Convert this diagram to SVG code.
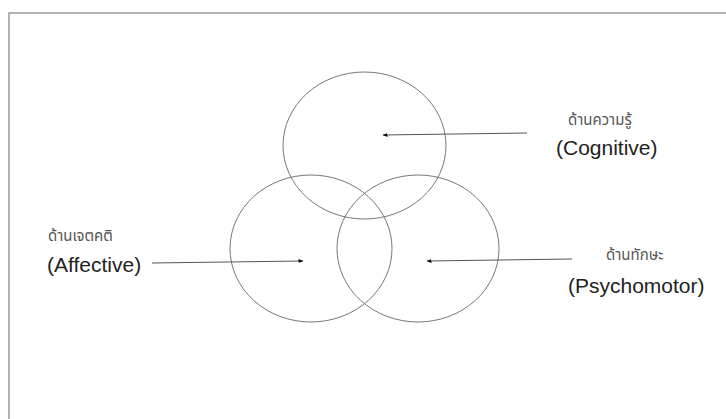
<svg xmlns="http://www.w3.org/2000/svg" width="726" height="419" viewBox="0 0 726 419">
  <defs>
    <style>
      .frame { fill: none; stroke: #999; stroke-width: 1.5; }
      .circle { fill: none; stroke: #777; stroke-width: 1; }
      .conn { stroke: #555; stroke-width: 1; fill: none; marker-end: url(#ah); }
      .en { font-family: "Liberation Sans", "Noto Sans", sans-serif; font-size: 21px; fill: #222; }
      .th { font-family: "Noto Sans Thai", "Tlwg Typist", "Loma", "Noto Sans", "DejaVu Sans", sans-serif; font-size: 15px; fill: #555; }
    </style>
    <marker id="ah" viewBox="0 0 10 10" refX="9" refY="5" markerWidth="5" markerHeight="5" orient="auto" markerUnits="userSpaceOnUse">
      <path d="M0,1 L10,5 L0,9 z" fill="#111"/>
    </marker>
  </defs>
  <rect x="0" y="0" width="726" height="419" fill="#fff"/>
  <path class="frame" d="M9,419 L9,13 L726,13"/>
  <g id="cognitive">
    <ellipse class="circle" cx="364.5" cy="145.5" rx="81.5" ry="73.5"/>
    <text class="th" x="568" y="125">ด้านความรู้</text>
    <text class="en" x="556" y="155">(Cognitive)</text>
  </g>
  <g id="affective">
    <ellipse class="circle" cx="311" cy="248.5" rx="81" ry="73.5"/>
    <text class="th" x="48" y="241">ด้านเจตคติ</text>
    <text class="en" x="47" y="272">(Affective)</text>
  </g>
  <g id="psychomotor">
    <ellipse class="circle" cx="418" cy="248.5" rx="81" ry="73.5"/>
    <text class="th" x="606" y="260">ด้านทักษะ</text>
    <text class="en" x="568" y="293">(Psychomotor)</text>
  </g>
  <g id="connectors">
    <line class="conn" x1="527" y1="133" x2="383" y2="135"/>
    <line class="conn" x1="152" y1="263" x2="303" y2="261"/>
    <line class="conn" x1="572" y1="259" x2="427" y2="261"/>
  </g>
</svg>
